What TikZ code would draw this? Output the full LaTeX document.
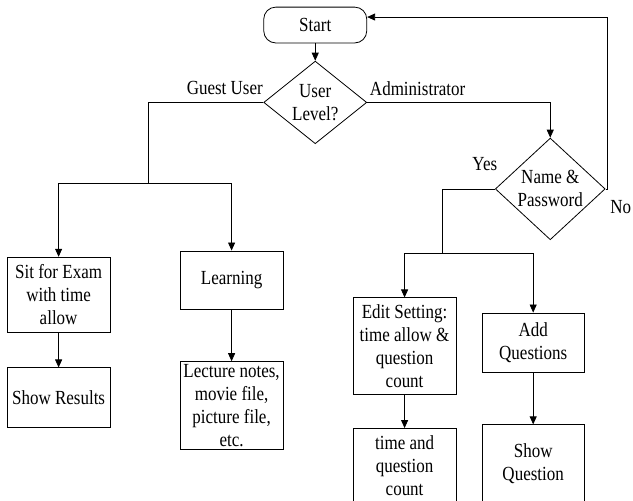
\documentclass[tikz,border=0pt]{standalone}
\usepackage{fontspec}
\setmainfont{Liberation Serif}[FakeStretch=0.85]
\usepackage{tikz}
\usetikzlibrary{arrows.meta,shapes.geometric,positioning}

\begin{document}
\begin{tikzpicture}[
  every node/.style={font=\fontsize{10}{11.5}\selectfont},
  box/.style={draw, minimum width=1.81cm, align=center, inner sep=1pt},
  startbox/.style={draw, rounded corners=6pt, minimum width=1.81cm,
                   minimum height=0.63cm, align=center},
  decision/.style={draw, diamond, inner sep=0pt, align=center},
  arrow/.style={-{Triangle[length=4pt, width=3.5pt]}},
]
\useasboundingbox (0,0) rectangle (11.124,-8.804);

%% Top
\node[startbox] (start) at (5.54,-0.44) {Start};
\node[decision, minimum width=1.81cm, minimum height=1.28cm]
  (user) at (5.54,-1.80) {User\\Level?};
\node[decision, minimum width=1.93cm, minimum height=1.65cm]
  (login) at (9.67,-3.32) {Name \&\\Password};

%% Guest side
\node[box, minimum height=1.32cm] (exam)    at (1.03,-5.18) {Sit for Exam\\with time\\allow};
\node[box, minimum height=1.05cm] (results) at (1.03,-6.99) {Show Results};
\node[box, minimum height=1.02cm] (learn)   at (4.07,-4.92) {Learning};
\node[box, minimum height=1.55cm] (lecture) at (4.07,-7.13)
  {Lecture notes,\\movie file,\\picture file,\\etc.};

%% Administrator side
\node[box, minimum height=1.69cm] (edit)  at (7.11,-6.08)
  {Edit Setting:\\time allow \&\\question\\count};
\node[box, minimum height=1.30cm] (timeq) at (7.11,-8.18) {time and\\question\\count};
\node[box, minimum width=1.79cm, minimum height=1.04cm] (addq)  at (9.37,-6.02) {Add\\Questions};
\node[box, minimum width=1.79cm, minimum height=1.37cm] (showq) at (9.37,-8.15) {Show\\Question};

%% Branch points
\coordinate (gj) at (2.60,-3.22);
\coordinate (ga) at (7.78,-4.46);

%% Arrows
\draw[arrow] (start.south) -- (user.north);
\draw (user.west) -| (gj);
\draw[arrow] (gj) -| (exam.north);
\draw[arrow] (gj) -| (learn.north);
\draw[arrow] (exam.south) -- (results.north);
\draw[arrow] (learn.south) -- (lecture.north);

\draw[arrow] (user.east) -| (login.north);
\draw[arrow] (login.east) -- ++(0.035,0) |- ([yshift=4pt]start.east);
\draw (login.west) -| (ga);
\draw[arrow] (ga) -| (edit.north);
\draw[arrow] (ga) -| (addq.north);
\draw[arrow] (edit.south) -- (timeq.north);
\draw[arrow] (addq.south) -- (showq.north);

%% Labels
\node (guest) at (3.95,-1.55)  {Guest User};
\node (admin) at (7.34,-1.55)  {Administrator};
\node (yes)   at (8.52,-2.88)  {Yes};
\node (no)    at (10.91,-3.64) {No};

\end{tikzpicture}
\end{document}
